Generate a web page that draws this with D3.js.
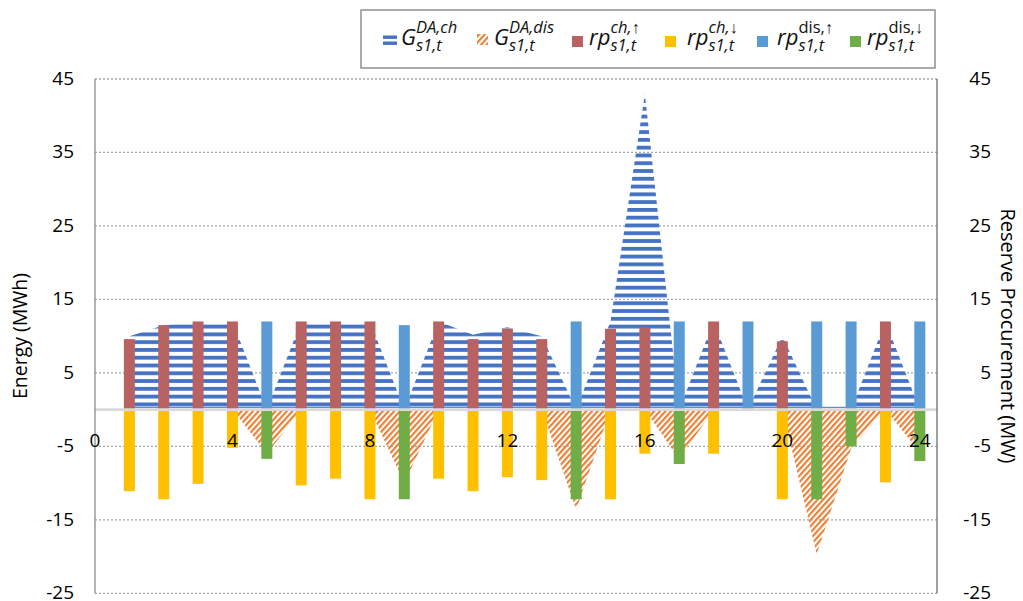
<!DOCTYPE html>
<html>
<head>
<meta charset="utf-8">
<script src="https://cdn.jsdelivr.net/npm/d3@7"></script>
<style>
  body { margin: 0; background: #fff; }
  text { font-family: "Open Sans", sans-serif; }
</style>
</head>
<body>
<svg width="1023" height="601"></svg>
<script>

// hours of the day
const hours = [1, 2, 3, 4, 5, 6, 7, 8, 9, 10, 11, 12, 13, 14, 15, 16, 17, 18, 19, 20, 21, 22, 23, 24];

// day-ahead energy (MWh), charge positive / discharge negative
const gChDA  = [10, 11.5, 12, 12, 0, 12, 12, 12, 0, 12, 10.2, 11.2, 10, 0, 12, 43, 0, 12, 0, 10, 0, 0, 12, 0];
const gDisDA = [0, 0, 0, 0, -6, 0, 0, 0, -10, 0, 0, 0, 0, -13.6, 0, 0, -6.8, 0, 0, 0, -19.7, -5.3, 0, -5.8];

// reserve procurement (MW)
const rpChUp  = [9.6, 11.5, 12, 12, 0, 12, 12, 12, 0, 12, 9.6, 11, 9.6, 0, 11, 11.2, 0, 12, 0, 9.3, 0, 0, 12, 0];
const rpChDn  = [-11.1, -12.2, -10.1, -5.2, 0, -10.3, -9.4, -12.2, 0, -9.4, -11.1, -9.2, -9.6, 0, -12.2, -6, 0, -6, 0, -12.2, 0, 0, -9.9, 0];
const rpDisUp = [0, 0, 0, 0, 12, 0, 0, 0, 11.5, 0, 0, 0, 0, 12, 0, 0, 12, 0, 12, 0, 12, 12, 0, 12];
const rpDisDn = [0, 0, 0, 0, -6.7, 0, 0, 0, -12.2, 0, 0, 0, 0, -12.2, 0, 0, -7.4, 0, 0, 0, -12.2, -5, 0, -7];

const yTicks = [45, 35, 25, 15, 5, -5, -15, -25];
const xTicks = [0, 4, 8, 12, 16, 20, 24];

const svg = d3.select("svg");
const left = 95, right = 937;
const x = d3.scaleLinear().domain([0, 24.5]).range([left, right]);
const y = d3.scaleLinear().domain([-25, 45]).range([593.3, 79]);
const barW = 11;

// patterns
const defs = svg.append("defs");
const stripes = defs.append("pattern")
    .attr("id", "stripes")
    .attr("patternUnits", "userSpaceOnUse")
    .attr("x", 0).attr("y", 5.7)
    .attr("width", 20).attr("height", 7.78);
stripes.append("rect").attr("width", 20).attr("height", 3.8).attr("fill", "#4472C4");

const hatch = defs.append("pattern")
    .attr("id", "hatch")
    .attr("patternUnits", "userSpaceOnUse")
    .attr("width", 4.2).attr("height", 10)
    .attr("patternTransform", "rotate(42)");
hatch.append("rect")
    .attr("x", 0).attr("y", 0).attr("width", 2.1).attr("height", 10)
    .attr("fill", "#ED7D31");

// gridlines
svg.append("g").selectAll("line")
    .data(yTicks)
    .join("line")
    .attr("x1", left).attr("x2", right)
    .attr("y1", d => y(d)).attr("y2", d => y(d))
    .attr("stroke", "#A6A6A6")
    .attr("stroke-width", 1.3)
    .attr("stroke-dasharray", "2,2");

// areas
const chData = hours.map((h, i) => ({h: h, v: gChDA[i]}));
const disData = hours.map((h, i) => ({h: h, v: gDisDA[i]}));
const area = d3.area()
    .x(d => x(d.h))
    .y0(y(0))
    .y1(d => y(d.v));

svg.append("path").datum(chData).attr("d", area).attr("fill", "url(#stripes)");
svg.append("path").datum(disData).attr("d", area).attr("fill", "url(#hatch)");

svg.append("line")
    .attr("x1", x(1)).attr("x2", x(24))
    .attr("y1", y(0) - 2.3).attr("y2", y(0) - 2.3)
    .attr("stroke", "#4472C4").attr("stroke-width", 1);

// bars
function bars(values, color) {
    svg.append("g").selectAll("rect")
        .data(hours.map((h, i) => ({h: h, v: values[i]})).filter(d => d.v !== 0))
        .join("rect")
        .attr("x", d => x(d.h) - barW / 2)
        .attr("width", barW)
        .attr("y", d => Math.min(y(d.v), y(0)))
        .attr("height", d => Math.abs(y(d.v) - y(0)))
        .attr("fill", color);
}
bars(rpChUp, "#B86262");
bars(rpChDn, "#FFC000");
bars(rpDisUp, "#5B9BD5");
bars(rpDisDn, "#70AD47");

// axis lines
svg.append("line")
    .attr("x1", left).attr("x2", right)
    .attr("y1", y(0)).attr("y2", y(0))
    .attr("stroke", "#D9D9D9").attr("stroke-width", 2.6);
svg.append("line")
    .attr("x1", left).attr("x2", left)
    .attr("y1", y(45)).attr("y2", y(-25))
    .attr("stroke", "#8C8C8C").attr("stroke-width", 1.3);
svg.append("line")
    .attr("x1", right).attr("x2", right)
    .attr("y1", y(45)).attr("y2", y(-25))
    .attr("stroke", "#6E6E6E").attr("stroke-width", 1.3);

// tick labels
svg.append("g").selectAll("text")
    .data(yTicks)
    .join("text")
    .attr("x", 74).attr("y", d => y(d) - 1)
    .attr("dy", "0.36em")
    .attr("text-anchor", "end")
    .attr("font-size", 19)
    .text(d => d);
svg.append("g").selectAll("text")
    .data(yTicks)
    .join("text")
    .attr("x", 991).attr("y", d => y(d) - 1)
    .attr("dy", "0.36em")
    .attr("text-anchor", "end")
    .attr("font-size", 19)
    .text(d => d);
svg.append("g").selectAll("text")
    .data(xTicks)
    .join("text")
    .attr("x", d => x(d)).attr("y", y(0) + 31)
    .attr("dy", "0.36em")
    .attr("text-anchor", "middle")
    .attr("font-size", 19)
    .text(d => d);

// axis titles
svg.append("text")
    .attr("transform", "translate(20," + 336 + ") rotate(-90)")
    .attr("text-anchor", "middle")
    .attr("dy", "0.36em")
    .attr("font-size", 19.5)
    .text("Energy (MWh)");
svg.append("text")
    .attr("transform", "translate(1008," + 336 + ") rotate(90)")
    .attr("text-anchor", "middle")
    .attr("dy", "0.36em")
    .attr("font-size", 20)
    .text("Reserve Procurement (MW)");

// legend
const legend = svg.append("g");
legend.append("rect")
    .attr("x", 361).attr("y", 10).attr("width", 574).attr("height", 58)
    .attr("fill", "#fff").attr("stroke", "#7F7F7F").attr("stroke-width", 1.3);

const items = [
    {main: "G",  sup: "DA,ch",  upright: false, sub: "s1,t", icon: "stripes", color: "#4472C4", ix: 383, tx: 401},
    {main: "G",  sup: "DA,dis", upright: false, sub: "s1,t", icon: "hatch",   color: "#ED7D31", ix: 477, tx: 494},
    {main: "rp", sup: "ch,\u2191",  upright: false, sub: "s1,t", icon: "box", color: "#B86262", ix: 572, tx: 589},
    {main: "rp", sup: "ch,\u2193",  upright: false, sub: "s1,t", icon: "box", color: "#FFC000", ix: 665, tx: 687},
    {main: "rp", sup: "dis,\u2191", upright: true,  sub: "s1,t", icon: "box", color: "#5B9BD5", ix: 757, tx: 777},
    {main: "rp", sup: "dis,\u2193", upright: true,  sub: "s1,t", icon: "box", color: "#70AD47", ix: 850, tx: 867}
];

items.forEach(it => {
    if (it.icon === "stripes") {
        legend.append("rect").attr("x", it.ix).attr("y", 35.5).attr("width", 14).attr("height", 3.4).attr("fill", it.color);
        legend.append("rect").attr("x", it.ix).attr("y", 41.5).attr("width", 14).attr("height", 3.4).attr("fill", it.color);
    } else if (it.icon === "hatch") {
        legend.append("rect").attr("x", it.ix).attr("y", 34).attr("width", 11).attr("height", 11).attr("fill", "url(#hatch)");
    } else {
        legend.append("rect").attr("x", it.ix).attr("y", 36).attr("width", 11).attr("height", 11).attr("fill", it.color);
    }
    const m = legend.append("text")
        .attr("x", it.tx).attr("y", 45)
        .attr("font-family", "DejaVu Serif").attr("font-style", "italic")
        .attr("font-size", 22)
        .attr("fill", "#111")
        .text(it.main);
    const w = m.node().getComputedTextLength();
    legend.append("text")
        .attr("x", it.tx + w).attr("y", 33)
        .attr("font-family", "DejaVu Serif").attr("font-style", it.upright ? "normal" : "italic")
        .attr("font-size", 16.5)
        .attr("fill", "#111")
        .text(it.sup);
    legend.append("text")
        .attr("x", it.tx + w).attr("y", 51)
        .attr("font-family", "DejaVu Serif").attr("font-style", "italic")
        .attr("font-size", 16.5)
        .attr("fill", "#111")
        .text(it.sub);
});

</script>
</body>
</html>
